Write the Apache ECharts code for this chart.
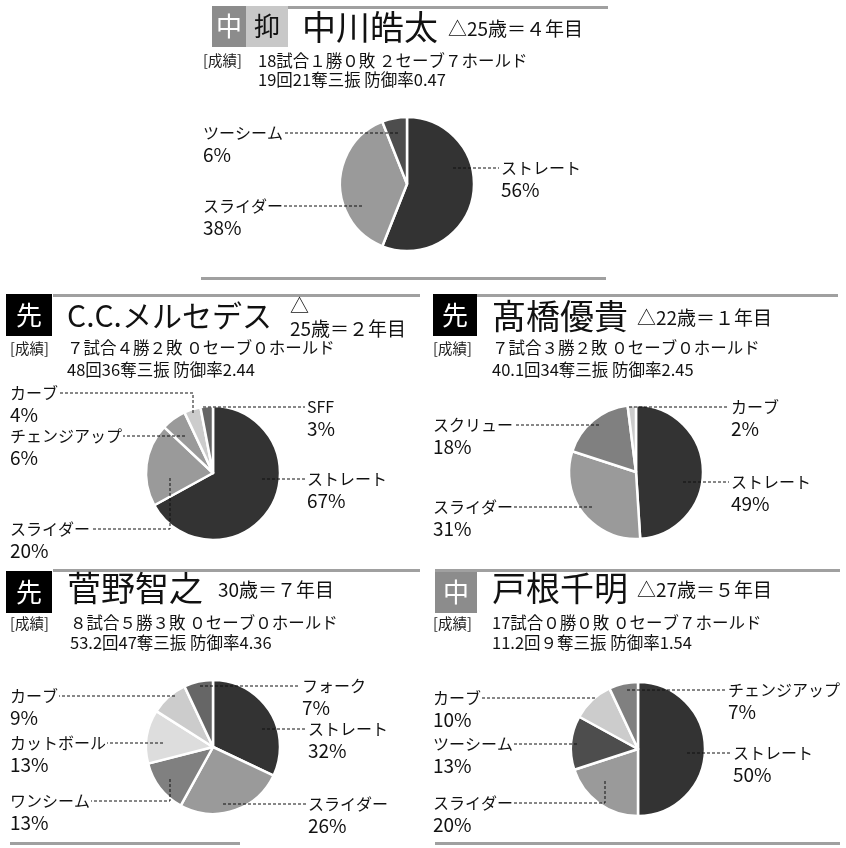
<!DOCTYPE html>
<html><head><meta charset="utf-8">
<script src="https://cdn.jsdelivr.net/npm/echarts@6/dist/echarts.min.js"></script>
<style>html,body{margin:0;padding:0;background:#fff}#c{width:846px;height:848px}</style>
</head><body><div id="c"></div>
<script>
const FONT = '"Noto Sans CJK JP", "Noto Sans", sans-serif';

// ---- data ----
const pitches1 = ['ストレート', 'スライダー', 'ツーシーム'];
const share1 = [56, 38, 6];
const pitches2 = ['ストレート', 'スライダー', 'チェンジアップ', 'カーブ', 'SFF'];
const share2 = [67, 20, 6, 4, 3];
const pitches3 = ['ストレート', 'スライダー', 'スクリュー', 'カーブ'];
const share3 = [49, 31, 18, 2];
const pitches4 = ['ストレート', 'スライダー', 'ワンシーム', 'カットボール', 'カーブ', 'フォーク'];
const share4 = [32, 26, 13, 13, 9, 7];
const pitches5 = ['ストレート', 'スライダー', 'ツーシーム', 'カーブ', 'チェンジアップ'];
const share5 = [50, 20, 13, 10, 7];

const names = ['中川皓太', 'C.C.メルセデス', '髙橋優貴', '菅野智之', '戸根千明'];
const ages = ['△25歳＝４年目', '25歳＝２年目', '△22歳＝１年目', '30歳＝７年目', '△27歳＝５年目'];
const roles = [['中', '抑'], ['先'], ['先'], ['先'], ['中']];
const record1 = ['18試合１勝０敗 ２セーブ７ホールド', '７試合４勝２敗 ０セーブ０ホールド', '７試合３勝２敗 ０セーブ０ホールド', '８試合５勝３敗 ０セーブ０ホールド', '17試合０勝０敗 ０セーブ７ホールド'];
const record2 = ['19回21奪三振 防御率0.47', '48回36奪三振 防御率2.44', '40.1回34奪三振 防御率2.45', '53.2回47奪三振 防御率4.36', '11.2回９奪三振 防御率1.54'];

const PIES = [
  { names: pitches1, values: share1 },
  { names: pitches2, values: share2 },
  { names: pitches3, values: share3 },
  { names: pitches4, values: share4 },
  { names: pitches5, values: share5 }
];

// ---- layout / style ----
// labels: [label x, label first-line centre y, leader start x, leader start y]
const LAYOUT = [
  { center: [407, 184], colors: ['#333333', '#9a9a9a', '#4d4d4d'],
    labels: [[501, 168, 453, 168], [203, 206, 362, 206], [203, 133, 398, 133]] },
  { center: [213, 473], colors: ['#333333', '#9a9a9a', '#9a9a9a', '#cccccc', '#666666'],
    labels: [[307, 479, 262, 479], [10, 529, 170, 478], [10, 436, 185, 436], [10, 393, 193, 413], [307, 407, 203, 407]] },
  { center: [636, 472], colors: ['#333333', '#9a9a9a', '#808080', '#cccccc'],
    labels: [[731, 482, 683, 482], [433, 507, 592, 507], [433, 425, 599, 425], [731, 407, 629, 407]] },
  { center: [213, 747], colors: ['#333333', '#9a9a9a', '#808080', '#dddddd', '#cccccc', '#666666'],
    labels: [[308, 729, 262, 729], [308, 804, 223, 804], [10, 801, 170, 779], [10, 743, 163, 743], [10, 696, 175, 696], [302, 686, 200, 686]] },
  { center: [638, 749], colors: ['#333333', '#9a9a9a', '#4d4d4d', '#cccccc', '#808080'],
    labels: [[733, 753, 687, 753], [433, 803, 605, 781], [433, 744, 577, 744], [433, 698, 595, 698], [728, 690, 627, 690]] }
];
const NAME_SIZE = 16;
const PCT_SIZE = 19;
const PIE_R = 67;

// header layout per panel
const HEAD = [
  { boxes: [[212, 6, 34, 41, '#8c8c8c', '#fff'], [246, 6, 42, 41, '#c8c8c8', '#111']],
    topLine: [288, 6, 320], bottomLine: [201, 277, 405],
    name: [302, 27, 34], age: [448, 29], rec: [203, 60], stats: [258, 61, 80] },
  { boxes: [[6, 294, 46, 42, '#000', '#fff']],
    topLine: [53, 294, 367], bottomLine: null,
    name: [67, 316, 30], age: [290, 329], tri: [290, 306], rec: [10, 348], stats: [67, 348, 370] },
  { boxes: [[433, 294, 44, 42, '#000', '#fff']],
    topLine: [475, 294, 363], bottomLine: null,
    name: [492, 316, 34], age: [637, 318], rec: [433, 348], stats: [492, 348, 370] },
  { boxes: [[6, 571, 46, 42, '#000', '#fff']],
    topLine: [53, 569, 367], bottomLine: [10, 842, 230],
    name: [67, 588, 34], age: [218, 590], rec: [10, 623], stats: [70, 623, 643] },
  { boxes: [[435, 572, 42, 41, '#8c8c8c', '#fff']],
    topLine: [435, 569, 405], bottomLine: [435, 842, 405],
    name: [492, 588, 34], age: [637, 590], rec: [433, 623], stats: [492, 623, 643] }
];

const LINE_COLOR = '#a0a0a0';

function txt(x, y, text, size, color, align) {
  return { type: 'text', x: x, y: y, silent: true, z: 5,
    style: { text: text, fontSize: size, fontFamily: FONT, fill: color || '#111',
      textAlign: align || 'left', textVerticalAlign: 'middle' } };
}
function rect(x, y, w, h, fill) {
  return { type: 'rect', silent: true, z: 5, shape: { x: x, y: y, width: w, height: h }, style: { fill: fill } };
}

const measureCtx = document.createElement('canvas').getContext('2d');
function textWidth(s, size) {
  measureCtx.font = size + 'px ' + FONT;
  return measureCtx.measureText(s).width;
}

const graphics = [];
HEAD.forEach(function (h, i) {
  graphics.push(rect(h.topLine[0], h.topLine[1], h.topLine[2], 3, LINE_COLOR));
  if (h.bottomLine) graphics.push(rect(h.bottomLine[0], h.bottomLine[1], h.bottomLine[2], 3, LINE_COLOR));
  h.boxes.forEach(function (b, k) {
    graphics.push(rect(b[0], b[1], b[2], b[3], b[4]));
    graphics.push(txt(b[0] + b[2] / 2, b[1] + b[3] / 2, roles[i][k], 26, b[5], 'center'));
  });
  graphics.push(txt(h.name[0], h.name[1], names[i], h.name[2], '#111'));
  if (h.tri) graphics.push(txt(h.tri[0], h.tri[1], '△', 19, '#111'));
  graphics.push(txt(h.age[0], h.age[1], ages[i], 19, '#111'));
  graphics.push(txt(h.rec[0], h.rec[1], '[成績]', 14.5, '#222'));
  graphics.push(txt(h.stats[0], h.stats[1], record1[i], 16.5, '#111'));
  graphics.push(txt(h.stats[0], h.stats[2], record2[i], 16.5, '#111'));
});

// dashed leader lines (drawn above the slices)
PIES.forEach(function (p, i) {
  const L = LAYOUT[i];
  p.names.forEach(function (n, j) {
    const a = L.labels[j];
    const lx = a[0], ly = a[1], sx = a[2], sy = a[3];
    const right = lx > L.center[0];
    const ex = right ? lx - 2 : lx + textWidth(n, NAME_SIZE) + 1;
    graphics.push({ type: 'polyline', silent: true, z: 20,
      shape: { points: [[sx, sy], [sx, ly], [ex, ly]] },
      style: { stroke: '#111', lineWidth: 1, lineDash: [3, 2], fill: null } });
  });
});

const series = PIES.map(function (p, i) {
  const L = LAYOUT[i];
  return {
    type: 'pie',
    center: L.center,
    radius: PIE_R,
    startAngle: 90,
    clockwise: true,
    avoidLabelOverlap: false,
    silent: true,
    animation: false,
    itemStyle: { borderColor: '#fff', borderWidth: 2.5 },
    label: { show: true, position: 'outside', formatter: '{n|{b}}\n{p|{c}%}',
      color: '#111', fontFamily: FONT,
      rich: {
        n: { fontSize: NAME_SIZE, lineHeight: 22, fontFamily: FONT, color: '#111' },
        p: { fontSize: PCT_SIZE, lineHeight: 22, fontFamily: FONT, color: '#111' }
      } },
    labelLine: { show: false },
    labelLayout: function (params) {
      const a = L.labels[params.dataIndex];
      return { x: a[0], y: a[1] - 11, align: 'left', verticalAlign: 'top' };
    },
    data: p.names.map(function (n, j) {
      return { name: n, value: p.values[j], itemStyle: { color: L.colors[j] } };
    })
  };
});

const chart = echarts.init(document.getElementById('c'), null, { renderer: 'canvas' });
chart.setOption({
  backgroundColor: '#fff',
  animation: false,
  graphic: graphics,
  series: series
});
</script>
</body></html>
